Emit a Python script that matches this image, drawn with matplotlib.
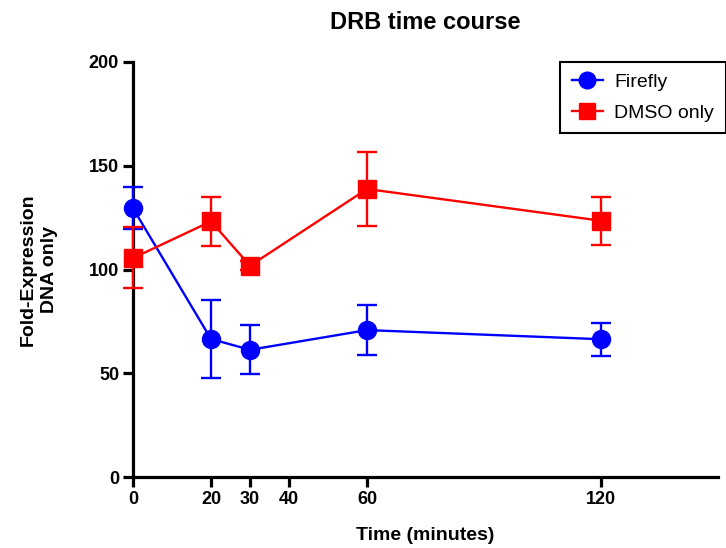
import matplotlib
matplotlib.use('Agg')
import matplotlib.pyplot as plt
from matplotlib.lines import Line2D

plt.rcParams['font.family'] = ['Liberation Sans', 'DejaVu Sans']

# Data
time_min = [0, 20, 30, 60, 120]
firefly = [129.5, 66.5, 61.3, 70.8, 66.4]
firefly_err_hi = [140.0, 85.3, 73.3, 82.9, 74.4]
firefly_err_lo = [119.5, 47.8, 49.6, 58.8, 58.3]
dmso = [105.5, 123.2, 101.8, 138.8, 123.5]
dmso_err_hi = [120.5, 135.0, 104.0, 156.8, 135.0]
dmso_err_lo = [91.0, 111.4, 99.8, 121.1, 111.8]
x_ticks = [0, 20, 30, 40, 60, 120]
y_ticks = [0, 50, 100, 150, 200]

blue = '#0000ff'
red = '#ff0000'

fig = plt.figure(figsize=(7.26, 5.48), dpi=100)
ax = fig.add_axes([133 / 726, 71 / 548, 585 / 726, 415 / 548])

ff_yerr = [[m - lo for m, lo in zip(firefly, firefly_err_lo)],
           [hi - m for m, hi in zip(firefly, firefly_err_hi)]]
dm_yerr = [[m - lo for m, lo in zip(dmso, dmso_err_lo)],
           [hi - m for m, hi in zip(dmso, dmso_err_hi)]]

ax.errorbar(time_min, firefly, yerr=ff_yerr, color=blue, marker='o',
            markersize=13, linewidth=1.7, elinewidth=1.7, capsize=7, capthick=1.7,
            clip_on=False, zorder=3)
ax.errorbar(time_min, dmso, yerr=dm_yerr, color=red, marker='s',
            markersize=12.5, linewidth=1.7, elinewidth=1.7, capsize=7, capthick=1.7,
            clip_on=False, zorder=3)

ax.set_xlim(0, 150)
ax.set_ylim(0, 200)
ax.set_xticks(x_ticks)
ax.set_yticks(y_ticks)
for spine in ['top', 'right']:
    ax.spines[spine].set_visible(False)
for spine in ['left', 'bottom']:
    ax.spines[spine].set_linewidth(2.3)
ax.tick_params(axis='both', width=2.3, length=7, labelsize=13, pad=3)
for lbl in ax.get_xticklabels() + ax.get_yticklabels():
    lbl.set_fontweight('bold')

ax.set_title('DRB time course', fontsize=17, fontweight='bold', pad=24)
ax.set_xlabel('Time (minutes)', fontsize=14, fontweight='bold', labelpad=14)
ax.set_ylabel('Fold-Expression\nDNA only', fontsize=14, fontweight='bold',
              labelpad=22, linespacing=1.35)

# legend handles: line with marker, no error caps
handles = [
    Line2D([], [], color=blue, marker='o', markersize=12, linewidth=1.7),
    Line2D([], [], color=red, marker='s', markersize=11.5, linewidth=1.7),
]
leg = fig.legend(handles, ['Firefly', 'DMSO only'], loc='upper left',
                 bbox_to_anchor=(560 / 726, 1 - 62 / 548),
                 fontsize=14, frameon=True, fancybox=False, edgecolor='black',
                 handlelength=1.6, handletextpad=0.6, borderpad=0.6,
                 borderaxespad=0, labelspacing=0.65, framealpha=1)
leg.get_frame().set_linewidth(1.5)

fig.savefig('out.png', dpi=100)
